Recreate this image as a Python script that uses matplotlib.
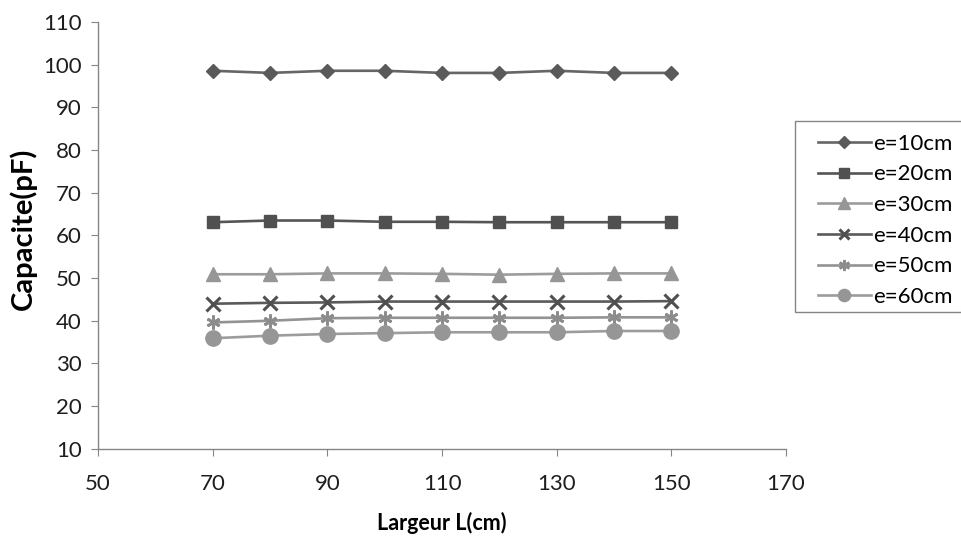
import matplotlib
matplotlib.use("Agg")
import matplotlib.pyplot as plt
from matplotlib.patches import Rectangle

plt.rcParams['font.family'] = ['Lato', 'DejaVu Sans']

largeur = [70, 80, 90, 100, 110, 120, 130, 140, 150]
labels = ["e=10cm", "e=20cm", "e=30cm", "e=40cm", "e=50cm", "e=60cm"]
e10 = [98.6, 98.1, 98.6, 98.6, 98.1, 98.1, 98.6, 98.1, 98.1]
e20 = [63.1, 63.5, 63.5, 63.2, 63.2, 63.1, 63.1, 63.1, 63.1]
e30 = [50.9, 50.9, 51.1, 51.1, 51.0, 50.8, 51.0, 51.1, 51.1]
e40 = [44.0, 44.2, 44.3, 44.5, 44.5, 44.5, 44.5, 44.5, 44.6]
e50 = [39.6, 40.0, 40.6, 40.7, 40.7, 40.7, 40.7, 40.8, 40.8]
e60 = [35.9, 36.5, 36.9, 37.1, 37.3, 37.3, 37.3, 37.6, 37.6]
series = [e10, e20, e30, e40, e50, e60]

styles = [
    dict(color='#666666', marker='D', ms=7.5, mfc='#5a5a5a', mec='#5a5a5a'),
    dict(color='#555555', marker='s', ms=9, mfc='#505050', mec='#505050'),
    dict(color='#9c9c9c', marker='^', ms=10.5, mfc='#969696', mec='#969696'),
    dict(color='#5a5a5a', marker='x', ms=9.5, mew=2.2, mfc='none', mec='#505050'),
    dict(color='#939393', marker=(6, 2, 0), ms=10, mew=2, mec='#8c8c8c'),
    dict(color='#9c9c9c', marker='o', ms=11, mfc='#969696', mec='#969696'),
]

fig = plt.figure(figsize=(9.62, 5.4), dpi=100)
ax = fig.add_axes([0.102, 0.169, 0.715, 0.79])

for vals, lab, st in zip(series, labels, styles):
    ax.plot(largeur, vals, lw=1.9, label=lab, **st)

ax.set_xlim(50, 170)
ax.set_ylim(10, 110)
ax.set_xticks(range(50, 171, 20))
ax.set_yticks(range(10, 111, 10))
for s in ['top', 'right']:
    ax.spines[s].set_visible(False)
for s in ['left', 'bottom']:
    ax.spines[s].set_color('#868686')
    ax.spines[s].set_linewidth(1)
ax.tick_params(axis='both', direction='out', length=5, color='#868686',
               labelsize=16, labelcolor='#1e1e1e')
ax.tick_params(axis='x', pad=13)
ax.tick_params(axis='y', pad=7)
ax.set_xlabel("Largeur L(cm)", fontsize=15.5, fontweight='bold', labelpad=13)
ax.set_ylabel("Capacite(pF)", fontsize=21, fontweight='bold', labelpad=4)
ax.yaxis.label.set_y(0.515)

# legend frame (right edge runs off the figure like the reference)
fig.patches.append(Rectangle((795 / 962, 1 - 312 / 540), 0.3, (312 - 121) / 540,
                             transform=fig.transFigure, fill=True, facecolor='white',
                             edgecolor='#868686', lw=1, zorder=1))
leg = fig.legend(loc='upper left', bbox_to_anchor=(800 / 962, 1 - 116 / 540), fontsize=16,
                 frameon=False, handlelength=2.4, labelspacing=0.48, borderpad=0.3,
                 handletextpad=0.08, markerscale=0.8)
leg.set_zorder(2)

fig.savefig("out.png", dpi=100)
